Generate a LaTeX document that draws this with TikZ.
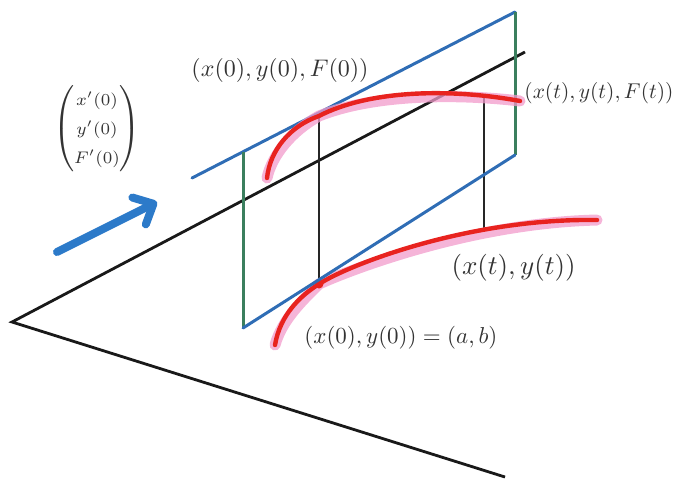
\documentclass[tikz,border=0pt]{standalone}
\usepackage{amsmath}
\usepackage{tikz}
\usetikzlibrary{arrows.meta}
\definecolor{mBlue}{HTML}{2F6DB5}
\definecolor{mArrow}{HTML}{2C7AC9}
\definecolor{mGreen}{HTML}{3B7F5E}
\definecolor{mRed}{HTML}{E8231F}
\definecolor{mPink}{HTML}{F29BCB}
\definecolor{mText}{HTML}{333333}

\begin{document}
\begin{tikzpicture}[x=0.5pt, y=-0.5pt,
  axis/.style={black!90, line width=1.4pt},
  plane/.style={mBlue, line width=1.5pt, line cap=round},
  side/.style={mGreen, line width=1.5pt},
  stem/.style={black!85, line width=0.9pt},
  curve/.style={mRed, line width=2.2pt, line cap=round},
  glow/.style={mPink, opacity=0.75, line width=5.5pt, line cap=round, shift={(2,5)}},
  lbl/.style={anchor=west, inner sep=0pt, text=mText},
]
  \useasboundingbox (0,0) rectangle (683,478);

  % ground lines
  \coordinate (O) at (12,322);
  \coordinate (ax1) at (525,52);
  \coordinate (ax2) at (505,477);
  \draw[axis] (ax1) -- (O) -- (ax2);

  % tangent plane
  \coordinate (p1) at (192,178);
  \coordinate (p2) at (515,12);
  \coordinate (p3) at (515,155);
  \coordinate (p4) at (243,328);
  \coordinate (p5) at (243,152);
  \draw[plane] (p1) -- (p2);
  \draw[side] (p5) -- (p4);
  \draw[side] (p2) -- (p3);

  % verticals
  \coordinate (a0) at (319,116);
  \coordinate (b0) at (319,284);
  \coordinate (at) at (484,96);
  \coordinate (bt) at (484,229);
  \draw[stem] (a0) -- (b0);
  \draw[stem] (at) -- (bt);

  % curves
  \coordinate (c1) at (267,178);
  \coordinate (c2) at (520,101);
  \coordinate (d1) at (275,345);
  \coordinate (d2) at (597,220);
  \draw[glow] (c1) .. controls (270,150) and (290,126) .. (a0)
    .. controls (369,90) and (450,88) .. (c2);
  \draw[glow] (d1) .. controls (280,315) and (300,296) .. (b0)
    .. controls (350,264) and (470,218) .. (d2);
  \draw[curve] (c1) .. controls (270,150) and (290,126) .. (a0)
    .. controls (369,90) and (450,88) .. (c2);
  \draw[curve] (d1) .. controls (280,315) and (300,296) .. (b0)
    .. controls (350,264) and (470,218) .. (d2);
  \fill[mRed] (b0) circle (4.5);
  \draw[plane] (p3) -- (p4);

  % direction
  \coordinate (arrS) at (57,252);
  \coordinate (arrE) at (157,202);
  \draw[mArrow, line width=4pt, line cap=round,
    -{Straight Barb[round, length=8pt, width=15pt]}] (arrS) -- (arrE);

  \node[lbl, scale=1.2] (p0lbl) at (191,70) {$(x(0),y(0),F(0))$};
  \node[lbl, scale=1.07] (ptlbl) at (524,93) {$(x(t),y(t),F(t))$};
  \node[lbl, scale=1.35] (xylbl) at (451,268) {$(x(t),y(t))$};
  \node[lbl, scale=1.15] (ablbl) at (304,338) {$(x(0),y(0))=(a,b)$};
  \node[text=mText, scale=1.2] (vec) at (97,129)
    {$\begin{pmatrix}\scriptstyle x'(0)\\ \scriptstyle y'(0)\\ \scriptstyle F'(0)\end{pmatrix}$};
\end{tikzpicture}
\end{document}
